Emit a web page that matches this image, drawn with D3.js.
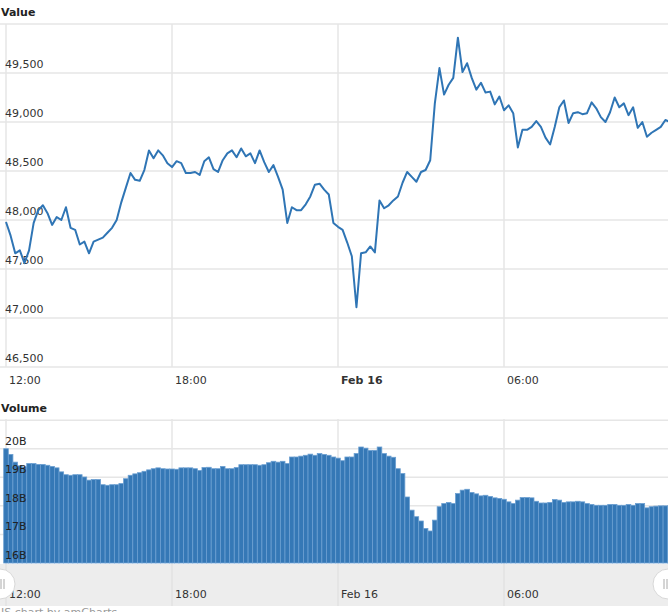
<!DOCTYPE html>
<html>
<head>
<meta charset="utf-8">
<script src="https://cdn.jsdelivr.net/npm/d3@7"></script>
<style>
  body { margin: 0; background: #fff; }
  svg { display: block; font-family: "DejaVu Sans", Verdana, sans-serif; }
</style>
</head>
<body>
<svg id="chart" width="668" height="612"></svg>
<script>
// 10-minute samples starting Feb 15 12:00
const startTime = new Date(2021, 1, 15, 12, 0);
const stepMinutes = 10;

const values = [
  47980, 47840, 47660, 47690, 47560, 47690, 47970, 48100, 48150, 48070,
  47950, 48030, 48000, 48130, 47920, 47900, 47750, 47780, 47660, 47780,
  47800, 47820, 47870, 47920, 48000, 48180, 48330, 48480, 48410, 48400,
  48510, 48710, 48630, 48710, 48660, 48580, 48540, 48600, 48580, 48480,
  48480, 48490, 48460, 48600, 48640, 48520, 48490, 48610, 48680, 48710,
  48640, 48730, 48650, 48680, 48580, 48710, 48590, 48490, 48560, 48440,
  48310, 47970, 48130, 48100, 48100, 48160, 48240, 48360, 48370, 48310,
  48260, 47970, 47930, 47900, 47770, 47630, 47110, 47660, 47670, 47730,
  47670, 48200, 48120, 48150, 48200, 48240, 48380, 48490, 48440, 48390,
  48490, 48510, 48610, 49190, 49550, 49280, 49380, 49450, 49860, 49510,
  49600, 49450, 49330, 49400, 49300, 49310, 49180, 49260, 49120, 49170,
  49090, 48740, 48920, 48920, 48950, 49010, 48950, 48840, 48770, 48950,
  49150, 49220, 48990, 49090, 49100, 49080, 49090, 49200, 49140, 49050,
  49000, 49100, 49250, 49150, 49190, 49070, 49150, 48940, 49000, 48850,
  48890, 48920, 48950, 49020, 49000
];

// volume in billions
const volumes = [
  20.0, 19.8, 19.53, 19.4, 19.36, 19.48, 19.48, 19.45, 19.45, 19.42,
  19.38, 19.33, 19.19, 19.09, 19.07, 19.09, 19.09, 19.01, 18.9, 18.92,
  18.92, 18.74, 18.72, 18.74, 18.74, 18.78, 18.95, 19.07, 19.12, 19.16,
  19.21, 19.26, 19.3, 19.33, 19.3, 19.29, 19.29, 19.28, 19.33, 19.33,
  19.33, 19.3, 19.24, 19.34, 19.35, 19.3, 19.3, 19.38, 19.3, 19.3,
  19.34, 19.44, 19.44, 19.44, 19.44, 19.42, 19.44, 19.51, 19.56, 19.53,
  19.56, 19.48, 19.71, 19.71, 19.74, 19.77, 19.81, 19.77, 19.83, 19.8,
  19.77, 19.71, 19.67, 19.58, 19.71, 19.71, 19.83, 20.06, 20.02, 19.94,
  19.94, 20.06, 19.83, 19.74, 19.7, 19.3, 19.13, 18.31, 17.85, 17.62,
  17.47, 17.21, 17.12, 17.5, 17.97, 18.08, 18.12, 18.08, 18.43, 18.55,
  18.58, 18.47, 18.42, 18.35, 18.37, 18.33, 18.28, 18.26, 18.23, 18.14,
  18.08, 18.2, 18.29, 18.29, 18.28, 18.16, 18.1, 18.1, 18.12, 18.22,
  18.2, 18.12, 18.14, 18.14, 18.16, 18.14, 18.08, 18.05, 18.02, 18.02,
  18.02, 18.05, 18.05, 18.02, 18.02, 18.05, 18.02, 18.08, 18.08, 17.93,
  17.97, 17.99, 18.0, 18.0, 18.0
];

const valueTicks = [50000, 49500, 49000, 48500, 48000, 47500, 47000, 46500];
const volumeTicks = [21, 20, 19, 18, 17, 16];
const timeTicks = [
  { t: new Date(2021, 1, 15, 12), label: '12:00', bold: false },
  { t: new Date(2021, 1, 15, 18), label: '18:00', bold: false },
  { t: new Date(2021, 1, 16, 0), label: 'Feb 16', bold: true },
  { t: new Date(2021, 1, 16, 6), label: '06:00', bold: false }
];

const timeOf = i => new Date(startTime.getTime() + i * stepMinutes * 60000);

const W = 668;
const svg = d3.select('#chart');
const gridColor = '#e6e6e6';
const blue = '#3578b6';

// shared time scale: 6 hours = 166 px
const x = d3.scaleTime()
  .domain([startTime, new Date(2021, 1, 15, 18)])
  .range([6, 172]);

// 1) value panel
const yV = d3.scaleLinear().domain([46500, 50000]).range([367, 24]);

svg.append('text').attr('x', 1).attr('y', 16)
  .attr('font-size', 11).attr('font-weight', 'bold').attr('fill', '#222')
  .text('Value');

const gV = svg.append('g');
gV.selectAll('line.h').data(valueTicks).join('line')
  .attr('x1', 0).attr('x2', W)
  .attr('y1', d => yV(d)).attr('y2', d => yV(d))
  .attr('stroke', gridColor).attr('stroke-width', 1.5);
gV.selectAll('line.v').data(timeTicks).join('line')
  .attr('x1', d => x(d.t)).attr('x2', d => x(d.t))
  .attr('y1', 24).attr('y2', 367)
  .attr('stroke', gridColor).attr('stroke-width', 1.5);
gV.selectAll('text.yl').data(valueTicks.slice(1)).join('text')
  .attr('x', 5).attr('y', d => yV(d) - 5)
  .attr('font-size', 11).attr('fill', '#333')
  .text(d => d3.format(',')(d));

const line = d3.line()
  .x((d, i) => x(timeOf(i)))
  .y(d => yV(d));
gV.append('path').datum(values)
  .attr('d', line)
  .attr('fill', 'none').attr('stroke', '#2f75b5').attr('stroke-width', 2)
  .attr('stroke-linejoin', 'round');

gV.selectAll('text.xl').data(timeTicks).join('text')
  .attr('x', d => x(d.t) + 3).attr('y', 384)
  .attr('font-size', 11).attr('fill', '#333')
  .attr('font-weight', d => d.bold ? 'bold' : 'normal')
  .text(d => d.label);

// 2) volume panel
const yB = d3.scaleLinear().domain([16, 21.04]).range([563, 419]);

svg.append('text').attr('x', 1).attr('y', 412)
  .attr('font-size', 11).attr('font-weight', 'bold').attr('fill', '#222')
  .text('Volume');

const gB = svg.append('g');
gB.selectAll('line.h').data(volumeTicks.slice(0, -1)).join('line')
  .attr('x1', 0).attr('x2', W)
  .attr('y1', d => yB(d)).attr('y2', d => yB(d))
  .attr('stroke', gridColor).attr('stroke-width', 1.5);
gB.selectAll('line.v').data(timeTicks).join('line')
  .attr('x1', d => x(d.t)).attr('x2', d => x(d.t))
  .attr('y1', 419).attr('y2', 606)
  .attr('stroke', gridColor).attr('stroke-width', 1.5);

const barW = x(timeOf(1)) - x(timeOf(0));
gB.selectAll('rect.bar').data(volumes).join('rect')
  .attr('x', (d, i) => x(timeOf(i)) - barW / 2)
  .attr('width', barW)
  .attr('y', d => yB(d))
  .attr('height', d => yB(16) - yB(d))
  .attr('fill', blue).attr('stroke', '#6b9fd1').attr('stroke-width', 0.8);

gB.selectAll('text.yl').data(volumeTicks.slice(1)).join('text')
  .attr('x', 5).attr('y', d => yB(d) - 4)
  .attr('font-size', 11).attr('fill', '#222')
  .text(d => d + 'B');

// 3) navigator band
const nav = svg.append('g');
nav.append('rect').attr('x', 0).attr('y', 564).attr('width', W).attr('height', 42)
  .attr('fill', '#ededed');
nav.selectAll('line.v').data(timeTicks).join('line')
  .attr('x1', d => x(d.t)).attr('x2', d => x(d.t))
  .attr('y1', 564).attr('y2', 606)
  .attr('stroke', '#e2e2e2').attr('stroke-width', 1.5);
nav.selectAll('text.xl').data(timeTicks).join('text')
  .attr('x', d => x(d.t) + 3).attr('y', 598)
  .attr('font-size', 11).attr('fill', '#333')
  .text(d => d.label);

[0, W].forEach(cx => {
  nav.append('circle').attr('cx', cx).attr('cy', 584).attr('r', 15)
    .attr('fill', '#fff').attr('stroke', '#d8d8d8');
  const dir = cx === 0 ? 1 : -1;
  [4, 7].forEach(off => {
    nav.append('line')
      .attr('x1', cx + dir * off - dir * 3).attr('x2', cx + dir * off - dir * 3)
      .attr('y1', 579).attr('y2', 589)
      .attr('stroke', '#aaa').attr('stroke-width', 1);
  });
});

svg.append('text').attr('x', 1).attr('y', 616)
  .attr('font-size', 11).attr('fill', '#999')
  .text('JS chart by amCharts');
</script>
</body>
</html>
